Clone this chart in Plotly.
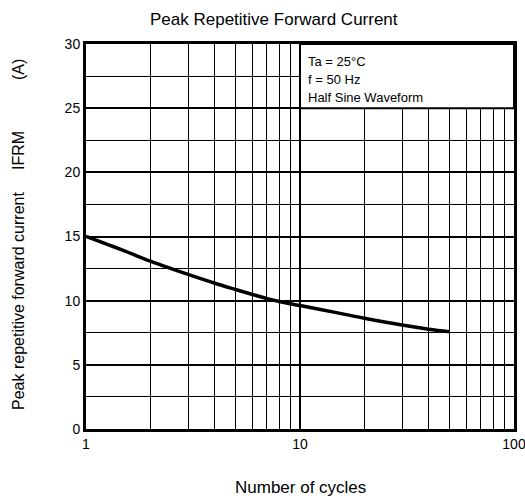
import plotly.graph_objects as go

# Data
cycles = [1, 1.5, 2, 2.5, 3, 4, 5, 6, 7, 8, 10, 15, 20, 30, 40, 50]
current = [15.0, 13.9, 13.08, 12.5, 12.05, 11.36, 10.87, 10.48, 10.17, 9.93, 9.62, 9.05, 8.63, 8.1, 7.78, 7.58]

x_major = [1, 10, 100]
x_major_labels = ["1", "10", "100"]
x_minor = [2, 3, 4, 5, 6, 7, 8, 9, 20, 30, 40, 50, 60, 70, 80, 90]

title = "Peak Repetitive Forward Current"
xlabel = "Number of cycles"
ylabel_parts = ["Peak repetitive forward current", "IFRM", "(A)"]
cond_lines = ["Ta = 25°C", "f = 50 Hz", "Half Sine Waveform"]

FONT = "Liberation Sans, Arial, sans-serif"
L, R, T, B = 86, 11, 44, 69
PW, PH = 525 - L - R, 498 - T - B

fig = go.Figure()
fig.add_trace(go.Scatter(x=cycles, y=current, mode="lines",
                         line=dict(color="black", width=3.5, shape="spline", smoothing=1.0),
                         showlegend=False, hoverinfo="skip"))

fig.update_layout(
    width=525, height=498,
    margin=dict(l=L, r=R, t=T, b=B, autoexpand=False),
    paper_bgcolor="white", plot_bgcolor="white",
    font=dict(family=FONT, color="black", size=14),
    showlegend=False,
)

fig.update_xaxes(
    type="log", range=[0, 2], automargin=False, ticklabeloverflow="allow",
    tickmode="array", tickvals=x_major, ticktext=x_major_labels,
    showgrid=True, gridcolor="black", gridwidth=1.6,
    showline=True, linecolor="black", linewidth=3, mirror=True,
    ticks="", ticklen=0, tickfont=dict(size=14, family=FONT),
    minor=dict(tickvals=x_minor, showgrid=True, gridcolor="black", gridwidth=1, ticks=""),
    zeroline=False,
)
fig.update_yaxes(
    range=[0, 30], tickmode="linear", tick0=0, dtick=5, automargin=False,
    showgrid=True, gridcolor="black", gridwidth=1.6,
    showline=True, linecolor="black", linewidth=3, mirror=True,
    ticks="", tickfont=dict(size=14, family=FONT),
    minor=dict(dtick=2.5, tick0=0, showgrid=True, gridcolor="black", gridwidth=1, ticks=""),
    zeroline=False,
)

# Conditions box (white, covering grid)
fig.add_shape(type="rect", xref="paper", yref="y", x0=0.5, x1=1.0, y0=25, y1=30,
              fillcolor="white", line=dict(color="black", width=2), layer="above")
for i, t in enumerate(cond_lines):
    fig.add_annotation(text=t, xref="paper", yref="paper", x=0.5 + 6 / PW, y=1 - (17 + 18.3 * i) / PH,
                       xanchor="left", yanchor="middle", showarrow=False,
                       font=dict(size=13, family=FONT, color="black"))

# Title
fig.add_annotation(text=title, xref="paper", yref="paper", x=(274 - L) / PW, y=1 + 25 / PH,
                   xanchor="center", yanchor="middle", showarrow=False,
                   font=dict(size=17, family=FONT, color="black"))
# X label
fig.add_annotation(text=xlabel, xref="paper", yref="paper", x=(300 - L) / PW, y=-(487 - (498 - B)) / PH,
                   xanchor="center", yanchor="middle", showarrow=False,
                   font=dict(size=17, family=FONT, color="black"))
# Y label parts (rotated)
ylab_centers = [301, 151, 70]
for t, yc in zip(ylabel_parts, ylab_centers):
    fig.add_annotation(text=t, xref="paper", yref="paper", x=(18 - L) / PW, y=((498 - B) - yc) / PH,
                       xanchor="center", yanchor="middle", showarrow=False, textangle=-90,
                       font=dict(size=16, family=FONT, color="black"))

fig.write_html("out.html", config={"displayModeBar": False},
               post_script="document.body.style.margin='0';document.body.style.padding='0';document.body.style.overflow='hidden';")
